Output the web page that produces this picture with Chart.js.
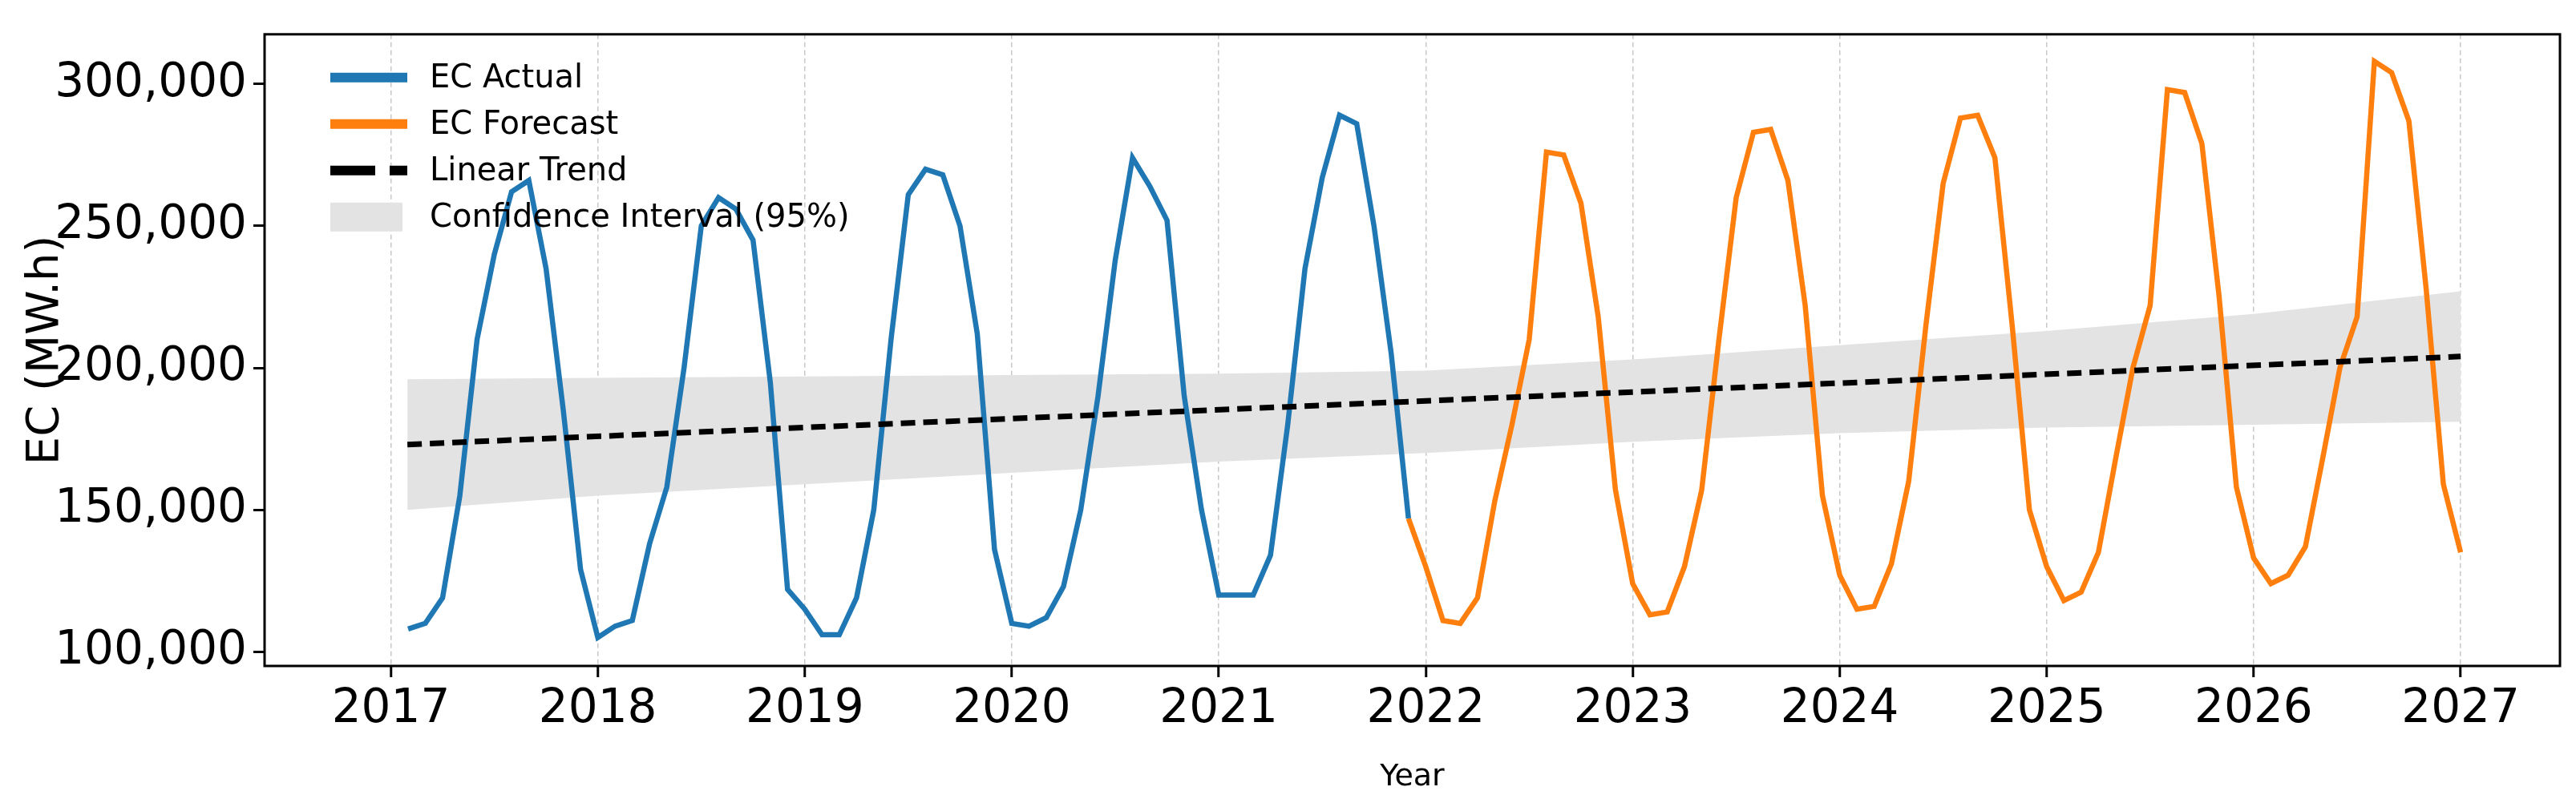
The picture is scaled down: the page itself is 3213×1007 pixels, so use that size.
<!DOCTYPE html>
<html>
<head>
<meta charset="utf-8">
<script src="https://cdn.jsdelivr.net/npm/chart.js@4.4.1/dist/chart.umd.min.js"></script>
<style>
  html, body { margin: 0; padding: 0; background: #fff; }
  #wrap { width: 3213px; height: 1007px; }
</style>
</head>
<body>
<div id="wrap"><canvas id="chart"></canvas></div>
<script>
/* --------------- Data (monthly, in MW.h) --------------------- */
// actual: Feb 2017 .. Dec 2021
const actualStart = { year: 2017, month: 2 };
const actualValues = [
  108000, 110000, 119000, 155000, 210000, 240000, 262000, 266000, 235000, 185000, 129000,
  105000, 109000, 111000, 138000, 158000, 200000, 250000, 260000, 256000, 245000, 195000, 122000,
  115000, 106000, 106000, 119000, 150000, 210000, 261000, 270000, 268000, 250000, 212000, 136000,
  110000, 109000, 112000, 123000, 150000, 190000, 238000, 274000, 264000, 252000, 190000, 150000,
  120000, 120000, 120000, 134000, 180000, 235000, 267000, 289000, 286000, 250000, 205000, 147000,
];
// forecast: Dec 2021 .. Jan 2027
const forecastStart = { year: 2021, month: 12 };
const forecastValues = [
  147000,
  130000, 111000, 110000, 119000, 153000, 180000, 210000, 276000, 275000, 258000, 218000, 157000,
  124000, 113000, 114000, 130000, 157000, 210000, 260000, 283000, 284000, 266000, 222000, 155000,
  127000, 115000, 116000, 131000, 160000, 215000, 265000, 288000, 289000, 274000, 215000, 150000,
  130000, 118000, 121000, 135000, 168000, 200000, 222000, 298000, 297000, 279000, 225000, 158000,
  133000, 124000, 127000, 137000, 168000, 200000, 218000, 308000, 304000, 287000, 228000, 159000,
  135000,
];
// linear trend and 95% confidence band
const trendYears = [2017.08, 2027];
const trendValues = [173000, 204000];
const ciYears = [2017.08, 2018, 2019, 2020, 2021, 2022, 2023, 2024, 2025, 2026, 2027];
const ciUpper = [196000, 196500, 197000, 197500, 198000, 199000, 203000, 208000, 213000, 219000, 227000];
const ciLower = [150000, 155000, 159000, 163000, 167000, 170000, 174000, 177000, 179000, 180000, 181000];
const yearTicks = [2017, 2018, 2019, 2020, 2021, 2022, 2023, 2024, 2025, 2026, 2027];
const valueTicks = [100000, 150000, 200000, 250000, 300000];

/* --------------- Helpers --------------------- */
const monthly = (start, values) =>
  values.map((v, i) => ({ x: start.year + (start.month - 1 + i) / 12, y: v }));
const paired = (xs, ys) => xs.map((x, i) => ({ x: x, y: ys[i] }));

const BLUE = "#1f77b4";
const ORANGE = "#ff7f0e";
const BAND = "#e3e3e3";

/* --------------- Frame + legend inside plot --------------------- */
const framePlugin = {
  id: "frame",
  afterDraw(chart) {
    const { ctx, chartArea: a } = chart;
    ctx.save();
    ctx.strokeStyle = "#000";
    ctx.lineWidth = 3;
    ctx.strokeRect(a.left, a.top, a.right - a.left, a.bottom - a.top);

    const items = [
      { label: "EC Actual", type: "line", color: BLUE },
      { label: "EC Forecast", type: "line", color: ORANGE },
      { label: "Linear Trend", type: "dash", color: "#000" },
      { label: "Confidence Interval (95%)", type: "box", color: BAND },
    ];
    ctx.font = "40px 'DejaVu Sans'";
    ctx.textBaseline = "middle";
    let y = a.top + 54;
    const x0 = a.left + 82;
    items.forEach((it) => {
      if (it.type === "box") {
        ctx.fillStyle = it.color;
        ctx.fillRect(x0, y - 18, 90, 36);
      } else {
        ctx.strokeStyle = it.color;
        ctx.lineWidth = 12;
        ctx.setLineDash(it.type === "dash" ? [56, 18] : []);
        ctx.beginPath();
        ctx.moveTo(x0, y);
        ctx.lineTo(x0 + 96, y);
        ctx.stroke();
        ctx.setLineDash([]);
      }
      ctx.fillStyle = "#000";
      ctx.fillText(it.label, x0 + 124, y + 2);
      y += 58;
    });
    ctx.restore();
  },
};

/* --------------- Chart --------------------- */
new Chart(document.getElementById("chart"), {
  type: "line",
  plugins: [framePlugin],
  data: {
    datasets: [
      {
        label: "CI upper",
        data: paired(ciYears, ciUpper),
        borderWidth: 0,
        pointRadius: 0,
        backgroundColor: BAND,
        fill: "+1",
        order: 10,
      },
      {
        label: "CI lower",
        data: paired(ciYears, ciLower),
        borderWidth: 0,
        pointRadius: 0,
        fill: false,
        order: 11,
      },
      {
        label: "Linear Trend",
        data: paired(trendYears, trendValues),
        borderColor: "#000",
        borderWidth: 7,
        borderDash: [18, 10],
        pointRadius: 0,
        fill: false,
        order: 1,
      },
      {
        label: "EC Actual",
        data: monthly(actualStart, actualValues),
        borderColor: BLUE,
        borderWidth: 6.5,
        pointRadius: 0,
        tension: 0,
        fill: false,
        order: 2,
      },
      {
        label: "EC Forecast",
        data: monthly(forecastStart, forecastValues),
        borderColor: ORANGE,
        borderWidth: 6.5,
        pointRadius: 0,
        tension: 0,
        fill: false,
        order: 2,
      },
    ],
  },
  options: {
    responsive: true,
    maintainAspectRatio: false,
    animation: false,
    layout: { padding: { left: 20, right: 20, top: 5, bottom: 10 } },
    plugins: { legend: { display: false }, tooltip: { enabled: false } },
    scales: {
      x: {
        type: "linear",
        min: 2016.39,
        max: 2027.48,
        afterBuildTicks: (s) => { s.ticks = yearTicks.map((v) => ({ value: v })); },
        afterFit: (s) => { s.height = 166; },
        grid: { color: "#c8c8c8", lineWidth: 1.5, tickLength: 14, tickColor: "#000", tickWidth: 3 },
        border: { display: false, dash: [6, 4] },
        ticks: { color: "#000", font: { size: 58, family: "DejaVu Sans" }, padding: 6, callback: (v) => String(v) },
        title: { display: true, text: "Year", color: "#000", font: { size: 38, family: "DejaVu Sans" }, padding: { top: 30 } },
      },
      y: {
        min: 95000,
        max: 317500,
        afterBuildTicks: (s) => { s.ticks = valueTicks.map((v) => ({ value: v })); },
        afterFit: (s) => { s.width = 310; },
        grid: { drawOnChartArea: false, tickLength: 14, tickColor: "#000", tickWidth: 3 },
        border: { display: false },
        ticks: { color: "#000", font: { size: 58, family: "DejaVu Sans" }, padding: 8, callback: (v) => v.toLocaleString("en-US") },
        title: { display: true, text: "EC (MW.h)", color: "#000", font: { size: 56, family: "DejaVu Sans" }, padding: { bottom: 30 } },
      },
    },
  },
});
</script>
</body>
</html>
